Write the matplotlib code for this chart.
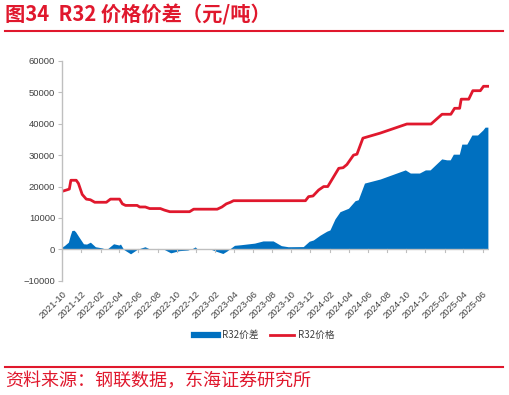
import numpy as np
import pandas as pd
import matplotlib
matplotlib.use('Agg')
import matplotlib.pyplot as plt
from matplotlib.lines import Line2D

plt.rcParams['font.family'] = ['Noto Sans CJK SC', 'DejaVu Sans']

# R32价格 (元/吨)
price_dates = ['2021-10-02', '2021-10-18', '2021-10-24', '2021-10-29', '2021-11-15', '2021-11-22',
               '2021-12-04', '2021-12-17', '2021-12-30', '2022-01-13', '2022-02-19', '2022-03-04',
               '2022-04-02', '2022-04-11', '2022-04-21', '2022-05-28', '2022-06-05', '2022-06-23',
               '2022-07-07', '2022-08-10', '2022-08-23', '2022-09-09', '2022-11-11', '2022-11-24',
               '2023-02-07', '2023-02-22', '2023-03-08', '2023-03-21', '2023-03-31', '2023-11-15',
               '2023-11-25', '2023-12-09', '2023-12-27', '2024-01-12', '2024-01-25', '2024-02-29',
               '2024-03-14', '2024-03-26', '2024-04-16', '2024-04-27', '2024-05-16', '2024-07-10',
               '2024-10-03', '2024-12-19', '2025-01-23', '2025-02-20', '2025-03-04', '2025-03-20',
               '2025-03-25', '2025-04-18', '2025-05-01', '2025-05-25', '2025-06-04', '2025-06-18']
price = [18500, 19000, 19200, 22000, 22000, 21000,
         17500, 16000, 15800, 15000, 15000, 16000,
         16000, 14500, 14000, 14000, 13500, 13500,
         13000, 13000, 12500, 12000, 12000, 12800,
         12800, 13500, 14500, 15000, 15500, 15500,
         16800, 17000, 18900, 20000, 20000, 25800,
         26000, 27000, 30000, 30300, 35400, 37000,
         39900, 39900, 43000, 43000, 44900, 44900,
         47800, 47800, 50500, 50500, 51900, 51900]

# R32价差 (元/吨)
spread_dates = ['2021-10-01', '2021-10-08', '2021-10-21', '2021-10-27', '2021-11-01', '2021-11-08',
                '2021-11-13', '2021-11-22', '2021-12-08', '2021-12-18', '2021-12-30', '2022-01-15',
                '2022-02-04', '2022-02-20', '2022-03-14', '2022-03-31', '2022-04-05', '2022-04-15',
                '2022-05-07', '2022-05-28', '2022-06-08', '2022-06-22', '2022-07-10', '2022-08-22',
                '2022-09-12', '2022-10-09', '2022-11-05', '2022-11-20', '2022-11-29', '2022-12-07',
                '2023-01-19', '2023-02-04', '2023-02-25', '2023-03-10', '2023-04-03', '2023-04-24',
                '2023-06-06', '2023-07-03', '2023-08-04', '2023-08-30', '2023-09-21', '2023-11-08',
                '2023-11-27', '2023-12-10', '2023-12-31', '2024-01-22', '2024-02-01', '2024-02-17',
                '2024-03-04', '2024-03-31', '2024-04-21', '2024-05-01', '2024-05-21', '2024-07-10',
                '2024-09-28', '2024-10-14', '2024-11-12', '2024-12-01', '2024-12-16', '2025-01-22',
                '2025-02-07', '2025-02-18', '2025-02-28', '2025-03-19', '2025-03-27', '2025-04-12',
                '2025-04-28', '2025-05-16', '2025-06-02', '2025-06-09', '2025-06-18']
spread = [800, 1200, 2300, 4500, 6000, 6100,
          5600, 4200, 1800, 1700, 2300, 850,
          500, 0, 1800, 1400, 1700, 0,
          -1400, 0, 400, 850, 0, 0,
          -1100, -400, -200, 300, 800, 0,
          0, -600, -1300, -500, 1300, 1500,
          2000, 2700, 2700, 1200, 850, 900,
          2600, 3000, 4500, 5800, 6200, 9700,
          12000, 13100, 15500, 15800, 21100, 22400,
          25300, 24300, 24300, 25300, 25300, 28800,
          28500, 28500, 30300, 30300, 33500, 33500,
          36400, 36400, 38000, 38900, 38900]

tick_labels = ['2021-10', '2021-12', '2022-02', '2022-04', '2022-06', '2022-08', '2022-10', '2022-12',
               '2023-02', '2023-04', '2023-06', '2023-08', '2023-10', '2023-12', '2024-02', '2024-04',
               '2024-06', '2024-08', '2024-10', '2024-12', '2025-02', '2025-04', '2025-06']

RED = '#E0182D'
BLUE = '#0070C0'
GRAY = '#BFBFBF'
TXT = '#404040'
NUM_FONT = ['Liberation Sans', 'DejaVu Sans']

pd_price = pd.to_datetime(price_dates)
pd_spread = pd.to_datetime(spread_dates)
tick_pos = pd.to_datetime([t + '-01' for t in tick_labels])

fig = plt.figure(figsize=(5.09, 3.95), dpi=100)
ax = fig.add_axes([0.122, 0.289, 0.839, 0.557])

ax.fill_between(pd_spread, spread, 0, color=BLUE, linewidth=0, label='R32价差')
ax.plot(pd_price, price, color=RED, linewidth=2.0, label='R32价格')

ax.set_xlim(pd.Timestamp('2021-10-01'), pd.Timestamp('2025-06-22'))
ax.set_ylim(-10000, 60000)
ax.set_yticks(np.arange(-10000, 60001, 10000))
ax.tick_params(axis='y', labelsize=6.8, colors=TXT, length=3, color=GRAY, width=0.8, pad=2)
for lab in ax.get_yticklabels():
    lab.set_family(NUM_FONT)

ax.set_xticks(tick_pos)
ax.set_xticklabels(tick_labels, rotation=45, ha='right', rotation_mode='anchor', fontsize=6.8,
                   color=TXT, family=NUM_FONT)
ax.tick_params(axis='x', length=0, pad=6)

# x axis line crosses at zero, with small tick marks
ax.axhline(0, color=GRAY, linewidth=1.0, zorder=1)
for t in tick_pos:
    ax.plot([t, t], [0, -700], color=GRAY, linewidth=0.8, clip_on=False, zorder=1)

for s in ['top', 'right', 'bottom']:
    ax.spines[s].set_visible(False)
ax.spines['left'].set_color(GRAY)
ax.spines['left'].set_linewidth(1.0)

handles = [Line2D([0], [0], color=BLUE, linewidth=4.5), Line2D([0], [0], color=RED, linewidth=2)]
fig.legend(handles, ['R32价差', 'R32价格'], loc='center', bbox_to_anchor=(0.519, 0.152), ncol=2,
           frameon=False, fontsize=7, handlelength=2.5, columnspacing=1.2, handletextpad=0.4,
           labelcolor=TXT)

# title and footer
fig.text(0.01, 0.962, '图34  R32 价格价差（元/吨）', color=RED, fontsize=14.6, fontweight='bold',
         ha='left', va='center')
fig.add_artist(Line2D([0.01, 0.988], [0.9215, 0.9215], color=RED, linewidth=1.5))
fig.add_artist(Line2D([0.01, 0.988], [0.071, 0.071], color=RED, linewidth=1.5))
fig.text(0.01, 0.035, '资料来源：钢联数据，东海证券研究所', color=RED, fontsize=13, ha='left', va='center')

fig.savefig('out.png', dpi=100)
